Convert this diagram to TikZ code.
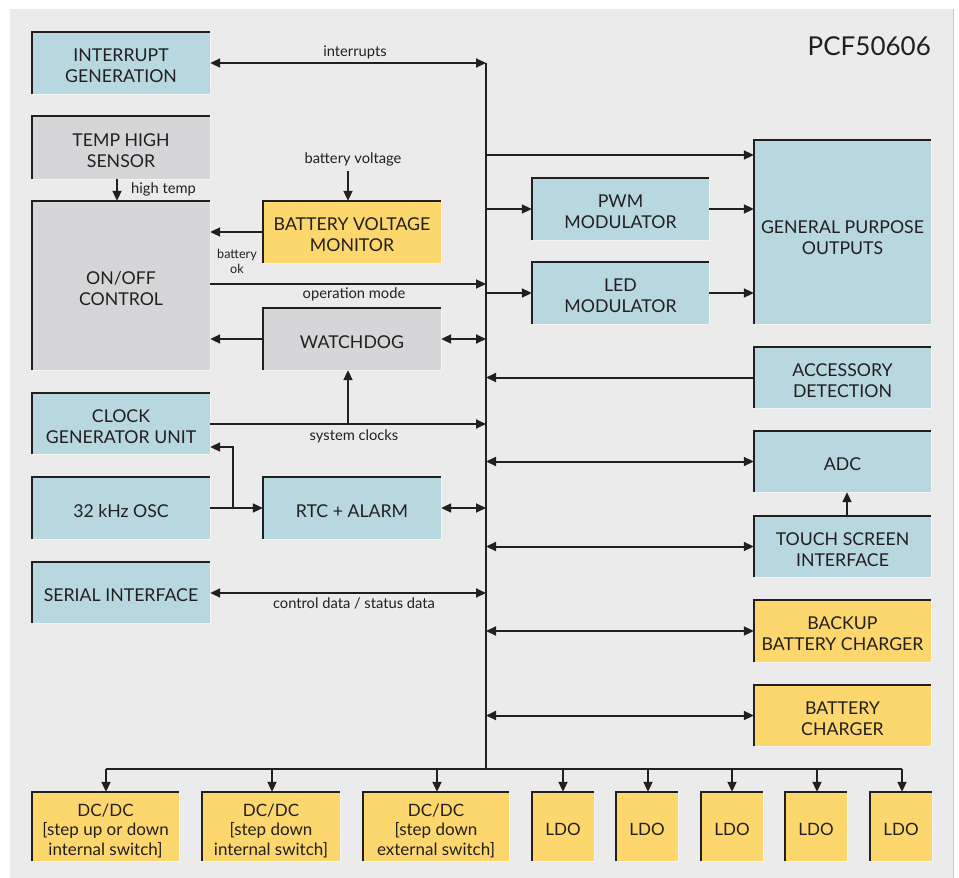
\documentclass[tikz,border=0pt]{standalone}
\usepackage{fontspec}
\setmainfont{Lato}
\usetikzlibrary{arrows.meta}
\definecolor{bg}{HTML}{EBEBEB}
\definecolor{bluef}{HTML}{B7D8DF}
\definecolor{grayf}{HTML}{D6D6D8}
\definecolor{yellf}{HTML}{FCD76E}
\definecolor{ink}{HTML}{231F20}
\definecolor{edgel}{HTML}{F4F4F4}
\newcommand{\bx}[2][5pt]{\raisebox{-#1}[\height][\depth]{\begin{tabular}{@{}c@{}}#2\end{tabular}}}
\begin{document}
\begin{tikzpicture}[x=1pt,y=-1pt,
  blk/.style={inner sep=0pt, text=ink,
    font=\fontsize{17.7}{21}\selectfont},
  bluebox/.style={blk, fill=bluef},
  graybox/.style={blk, fill=grayf},
  yellbox/.style={blk, fill=yellf},
  botbox/.style={yellbox, minimum height=69pt, font=\fontsize{17}{19.5}\selectfont},
  ldo/.style={botbox, minimum width=62pt},
  lbl/.style={text=ink, inner sep=0pt, font=\fontsize{14.7}{17}\selectfont},
  wire/.style={draw=ink, line width=2pt},
  arr/.style={wire, -{Triangle[length=10pt,width=9pt]}},
  darr/.style={wire, {Triangle[length=10pt,width=9pt]}-{Triangle[length=10pt,width=9pt]}},
  edgeD/.style={draw=ink, line width=2.2pt},
  edgeL/.style={draw=edgel, line width=1.4pt}]
\useasboundingbox (0,0) rectangle (959,878);
\fill[bg] (10,9) rectangle (953,878);
\draw[gray!40, line width=1pt] (953.5,9) -- (953.5,878);

% title
\node[anchor=base east, inner sep=0pt, text=ink, font=\fontsize{26}{30}\selectfont] (title) at (931,55) {PCF50606};

% left column
\node[bluebox, minimum width=178pt, minimum height=62pt] (ig) at (121,63) {\bx{INTERRUPT\\GENERATION}};
\node[graybox, minimum width=178pt, minimum height=63pt] (ths) at (121,147.5) {\bx{TEMP HIGH\\SENSOR}};
\node[graybox, minimum width=178pt, minimum height=169pt] (onoff) at (121,285.5) {\bx{ON/OFF\\CONTROL}};
\node[bluebox, minimum width=178pt, minimum height=61pt] (cgu) at (121,423.5) {\bx{CLOCK\\GENERATOR UNIT}};
\node[bluebox, minimum width=178pt, minimum height=62pt] (osc) at (121,508) {\bx{32 kHz OSC}};
\node[bluebox, minimum width=178pt, minimum height=61pt] (si) at (121,592.5) {\bx{SERIAL INTERFACE}};

% middle column
\node[yellbox, minimum width=178pt, minimum height=62pt] (bvm) at (352,232) {\bx{BATTERY VOLTAGE\\MONITOR}};
\node[graybox, minimum width=178pt, minimum height=62pt] (wd) at (352,339) {\bx{WATCHDOG}};
\node[bluebox, minimum width=178pt, minimum height=62pt] (rtc) at (352,508) {\bx{RTC + ALARM}};

% right
\node[bluebox, minimum width=177pt, minimum height=62pt] (pwm) at (620.5,209) {\bx{PWM\\MODULATOR}};
\node[bluebox, minimum width=177pt, minimum height=62pt] (led) at (620.5,293) {\bx{LED\\MODULATOR}};
\node[bluebox, minimum width=177pt, minimum height=184pt] (gpo) at (842.5,232) {\bx[8pt]{GENERAL PURPOSE\\OUTPUTS}};
\node[bluebox, minimum width=177pt, minimum height=61pt] (acc) at (842.5,377.5) {\bx{ACCESSORY\\DETECTION}};
\node[bluebox, minimum width=177pt, minimum height=61pt] (adc) at (842.5,461.5) {\bx{ADC}};
\node[bluebox, minimum width=177pt, minimum height=61pt] (tsi) at (842.5,546.5) {\bx{TOUCH SCREEN\\INTERFACE}};
\node[yellbox, minimum width=177pt, minimum height=62pt] (bbc) at (842.5,631) {\bx{BACKUP\\BATTERY CHARGER}};
\node[yellbox, minimum width=177pt, minimum height=61pt] (bc) at (842.5,715.5) {\bx{BATTERY\\CHARGER}};

% bottom row
\node[botbox, minimum width=147pt] (b1) at (105.5,826.5) {\bx[5.5pt]{DC/DC\\{}[step up or down\\internal switch]}};
\node[botbox, minimum width=138pt] (b2) at (271,826.5) {\bx[5.5pt]{DC/DC\\{}[step down\\internal switch]}};
\node[botbox, minimum width=146pt] (b3) at (436,826.5) {\bx[5.5pt]{DC/DC\\{}[step down\\external switch]}};
\node[ldo] (l1) at (563,826.5) {\bx{LDO}};
\node[ldo] (l2) at (647,826.5) {\bx{LDO}};
\node[ldo] (l3) at (732,826.5) {\bx{LDO}};
\node[ldo] (l4) at (816,826.5) {\bx{LDO}};
\node[ldo] (l5) at (901,826.5) {\bx{LDO}};

% box edges
\foreach \n in {ig,ths,onoff,cgu,osc,si,bvm,wd,rtc,pwm,led,gpo,acc,adc,tsi,bbc,bc,b1,b2,b3,l1,l2,l3,l4,l5}{
  \draw[edgeL] (\n.north east) -- (\n.south east) -- (\n.south west);
  \draw[edgeD] (\n.south west) -- (\n.north west) -- (\n.north east);
}

% bus
\coordinate (bt) at (486,63);
\coordinate (bb) at (486,769);
\draw[wire] (bt) -- (bb);
\coordinate (hl) at (106,769);
\coordinate (hr) at (902,769);
\draw[wire] (hl) -- (hr);
\foreach \n/\xx in {b1/106,b2/272,b3/437,l1/563,l2/648,l3/732,l4/817,l5/902}{
  \draw[arr] (\xx,769) -- (\xx,0 |- \n.north);
}

% left connectors
\draw[darr] (ig.east) -- (bt);
\node[lbl, anchor=base] (linterrupts) at (355,56) {interrupts};
\draw[arr] (117,0 |- ths.south) -- (117,0 |- onoff.north);
\node[lbl, anchor=base west] (lhigh) at (131,193) {high temp};
\coordinate (bvin) at (348,171);
\draw[arr] (bvin) -- (348,0 |- bvm.north);
\node[lbl, anchor=base] (lbv) at (353,163) {battery voltage};
\draw[arr] (bvm.west) -- (onoff.east |- bvm.west);
\node[lbl, anchor=base, font=\fontsize{12.6}{15}\selectfont] (lbok) at (237,258) {battery};
\node[lbl, anchor=base, font=\fontsize{12.6}{15}\selectfont] (lok) at (237,273) {ok};
\draw[arr] (onoff.east |- 0,284) -- (486,284);
\node[lbl, anchor=base] (lopm) at (354,298) {operation mode};
\draw[arr] (wd.west) -- (onoff.east |- wd.west);
\draw[darr] (wd.east) -- (486,0 |- wd.east);
\draw[arr] (cgu.east |- 0,424) -- (486,424);
\draw[arr] (348,424) -- (348,0 |- wd.south);
\node[lbl, anchor=base] (lsys) at (354,440) {system clocks};
\draw[arr] (osc.east) -- (rtc.west);
\draw[arr] (233,508) -- (233,447) -- (cgu.east |- 0,447);
\draw[darr] (rtc.east) -- (486,0 |- rtc.east);
\draw[darr] (si.east |- 0,593) -- (486,593);
\node[lbl, anchor=base] (lctl) at (354,608) {control data / status data};

% right connectors
\draw[arr] (486,155) -- (gpo.west |- 0,155);
\draw[arr] (486,0 |- pwm.west) -- (pwm.west);
\draw[arr] (pwm.east) -- (gpo.west |- pwm.east);
\draw[arr] (486,0 |- led.west) -- (led.west);
\draw[arr] (led.east) -- (gpo.west |- led.east);
\draw[arr] (acc.west) -- (486,0 |- acc.west);
\draw[darr] (486,0 |- adc.west) -- (adc.west);
\draw[arr] (847,0 |- tsi.north) -- (847,0 |- adc.south);
\draw[darr] (486,0 |- tsi.west) -- (tsi.west);
\draw[darr] (486,0 |- bbc.west) -- (bbc.west);
\draw[darr] (486,0 |- bc.west) -- (bc.west);
\end{tikzpicture}
\end{document}
